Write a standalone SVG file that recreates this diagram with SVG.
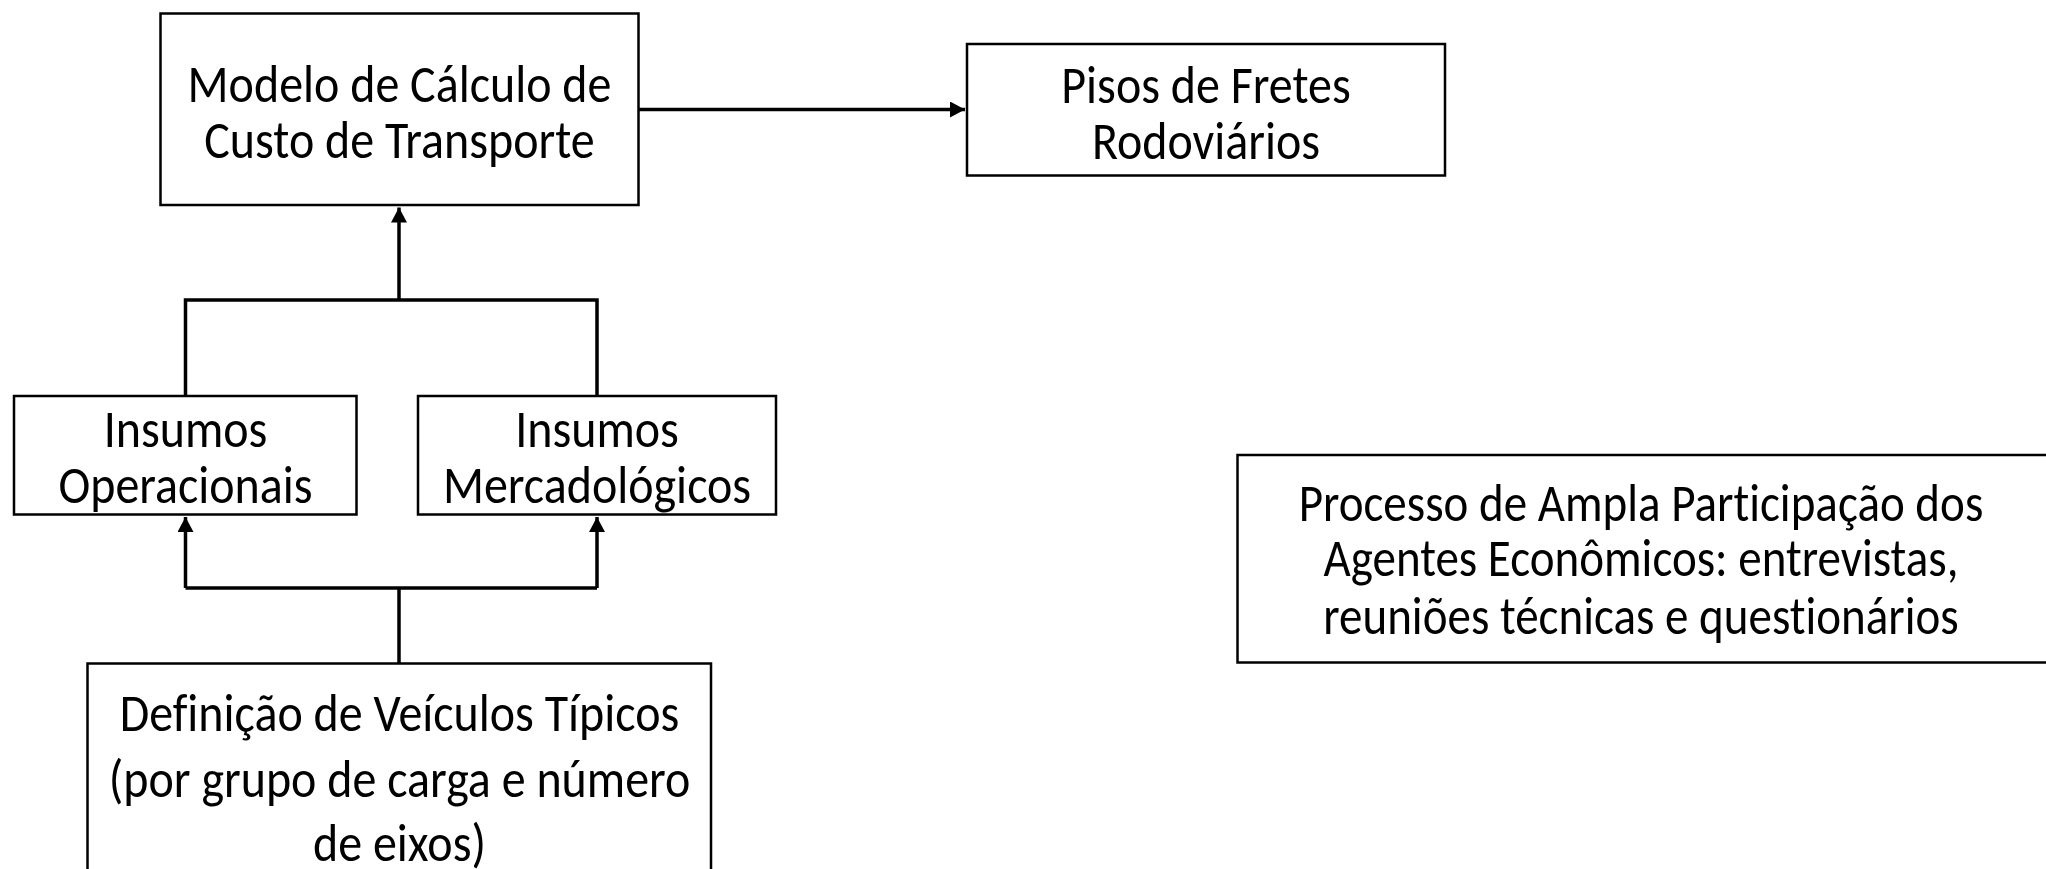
<svg xmlns="http://www.w3.org/2000/svg" width="2046" height="869" viewBox="0 0 2046 869">
  <defs>
    <style>
      .box { fill: #ffffff; stroke: #000000; stroke-width: 2.5; }
      .lbl { font-family: Carlito, Calibri, Lato, "Liberation Sans", sans-serif; font-size: 48px; fill: #000000; text-anchor: middle; font-variant-ligatures: none; font-feature-settings: "liga" 0; }
      .conn { fill: none; stroke: #000000; stroke-width: 3.5; }
    </style>
    <marker id="arr" markerUnits="userSpaceOnUse" markerWidth="16" markerHeight="17" refX="15" refY="8" orient="auto">
      <path d="M0,0 L15,8 L0,16 z" fill="#000000"/>
    </marker>
  </defs>
  <rect width="2046" height="869" fill="#ffffff"/>

  <g id="connectors">
    <path class="conn" d="M638.5,109.5 H965" marker-end="url(#arr)"/>
    <path class="conn" d="M399,300 V207.5" marker-end="url(#arr)"/>
    <path class="conn" d="M185.5,396 V300 H597 V396"/>
    <path class="conn" d="M399,663 V588"/>
    <path class="conn" d="M185.5,588 H597"/>
    <path class="conn" d="M185.5,588 V517" marker-end="url(#arr)"/>
    <path class="conn" d="M597,588 V517" marker-end="url(#arr)"/>
  </g>

  <g id="node-modelo">
    <rect class="box" x="160.5" y="13.5" width="478" height="191.5"/>
    <text class="lbl" transform="translate(399.5,102) scale(1,1.1)"><tspan x="0" y="0">Modelo de Cálculo de</tspan><tspan x="0" dy="50.9">Custo de Transporte</tspan></text>
  </g>

  <g id="node-pisos">
    <rect class="box" x="967" y="44" width="478" height="131.5"/>
    <text class="lbl" transform="translate(1206,103) scale(1,1.1)"><tspan x="0" y="0">Pisos de Fretes</tspan><tspan x="0" dy="50.9">Rodoviários</tspan></text>
  </g>

  <g id="node-operacionais">
    <rect class="box" x="14" y="396" width="342.5" height="118.5"/>
    <text class="lbl" transform="translate(185.5,447) scale(1,1.1)"><tspan x="0" y="0">Insumos</tspan><tspan x="0" dy="50.9">Operacionais</tspan></text>
  </g>

  <g id="node-mercadologicos">
    <rect class="box" x="418" y="396" width="358" height="118.5"/>
    <text class="lbl" transform="translate(597,447) scale(1,1.1)"><tspan x="0" y="0">Insumos</tspan><tspan x="0" dy="50.9">Mercadológicos</tspan></text>
  </g>

  <g id="node-definicao">
    <rect class="box" x="87.5" y="663.5" width="623.5" height="230"/>
    <text class="lbl" transform="translate(399.5,731) scale(1,1.1)"><tspan x="0" y="0">Definição de Veículos Típicos</tspan><tspan x="0" dy="60">(por grupo de carga e número</tspan><tspan x="0" dy="58.2">de eixos)</tspan></text>
  </g>

  <g id="node-processo">
    <rect class="box" x="1237.5" y="455" width="830" height="207.5"/>
    <text class="lbl" transform="translate(1641,521) scale(0.98,1.1)"><tspan x="0" y="0">Processo de Ampla Participação dos</tspan><tspan x="0" dy="50">Agentes Econômicos: entrevistas,</tspan><tspan x="0" dy="52.7">reuniões técnicas e questionários</tspan></text>
  </g>
</svg>
